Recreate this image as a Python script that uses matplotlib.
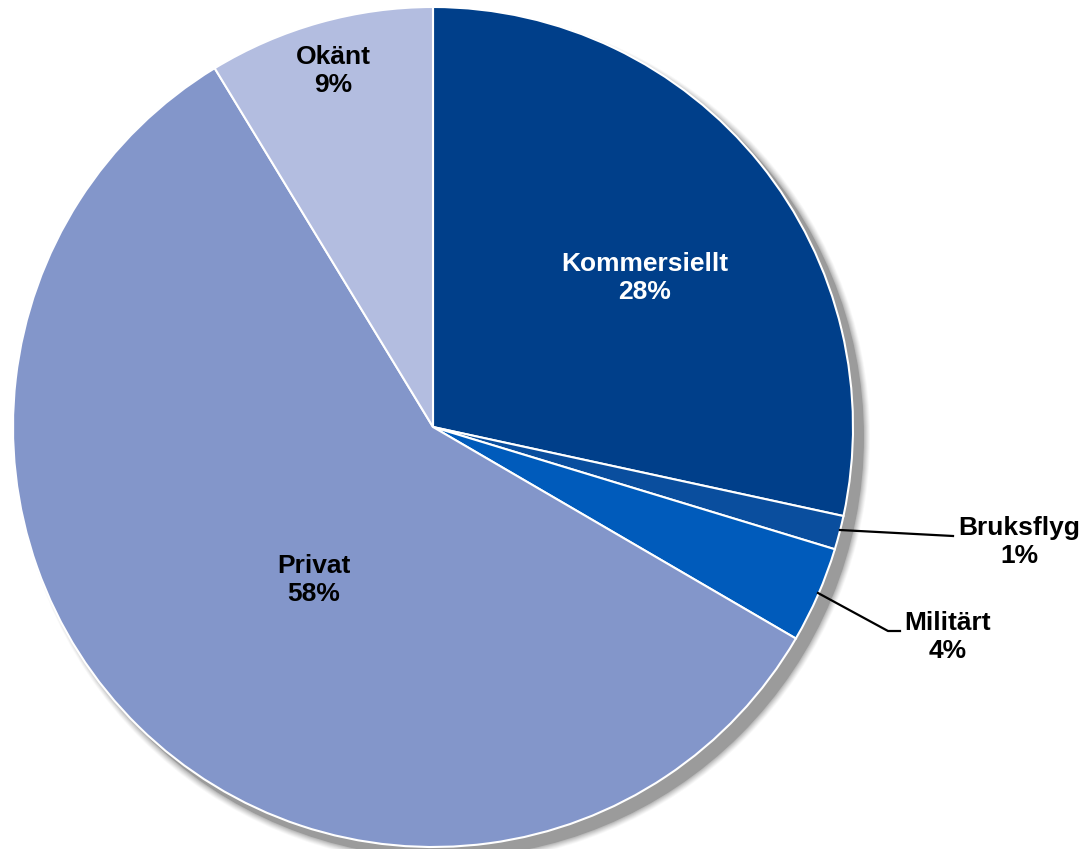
import numpy as np
import matplotlib.pyplot as plt
from matplotlib.patches import Circle

labels = ['Kommersiellt', 'Bruksflyg', 'Militärt', 'Privat', 'Okänt']
values = [28.4, 1.3, 3.7, 57.9, 8.7]
colors = ['#003f8a', '#0a4e9e', '#005bbb', '#8396ca', '#b3bde0']

# text positions in pixels (x from left, y from top)
label_pos = [(645, 278), (1019, 542), (948, 637), (314, 580), (333, 71)]
label_col = ['white', 'black', 'black', 'black', 'black']

W, H = 1085, 849
cx, cy, R = 433, H - 427, 420

fig = plt.figure(figsize=(W / 100, H / 100), dpi=100)
ax = fig.add_axes([0, 0, 1, 1])

# soft drop shadow
for k, a in zip(range(7, 0, -1), [0.07, 0.1, 0.13, 0.17, 0.22, 0.3, 1.0]):
    ax.add_patch(Circle((cx + 10, cy - 10), R + k, color='#9b9b9b', alpha=a, lw=0, zorder=0))

ax.pie(values, colors=colors, startangle=90, counterclock=False, radius=R, center=(cx, cy),
       wedgeprops=dict(edgecolor='white', linewidth=1.5), frame=True)
ax.set_xlim(0, W)
ax.set_ylim(0, H)
ax.axis('off')

for lab, v, (x, y), c in zip(labels, values, label_pos, label_col):
    ax.text(x, H - y, f'{lab}\n{round(v):.0f}%', ha='center', va='center', color=c,
            fontsize=19, fontweight='bold', family='Liberation Sans', linespacing=1.25, zorder=5)

# leader lines
ax.plot([840, 953], [H - 530, H - 536], color='black', lw=1.6, zorder=4)
ax.plot([818, 888, 900], [H - 593, H - 631, H - 631], color='black', lw=1.6, zorder=4)

fig.savefig('out.png', dpi=100)
